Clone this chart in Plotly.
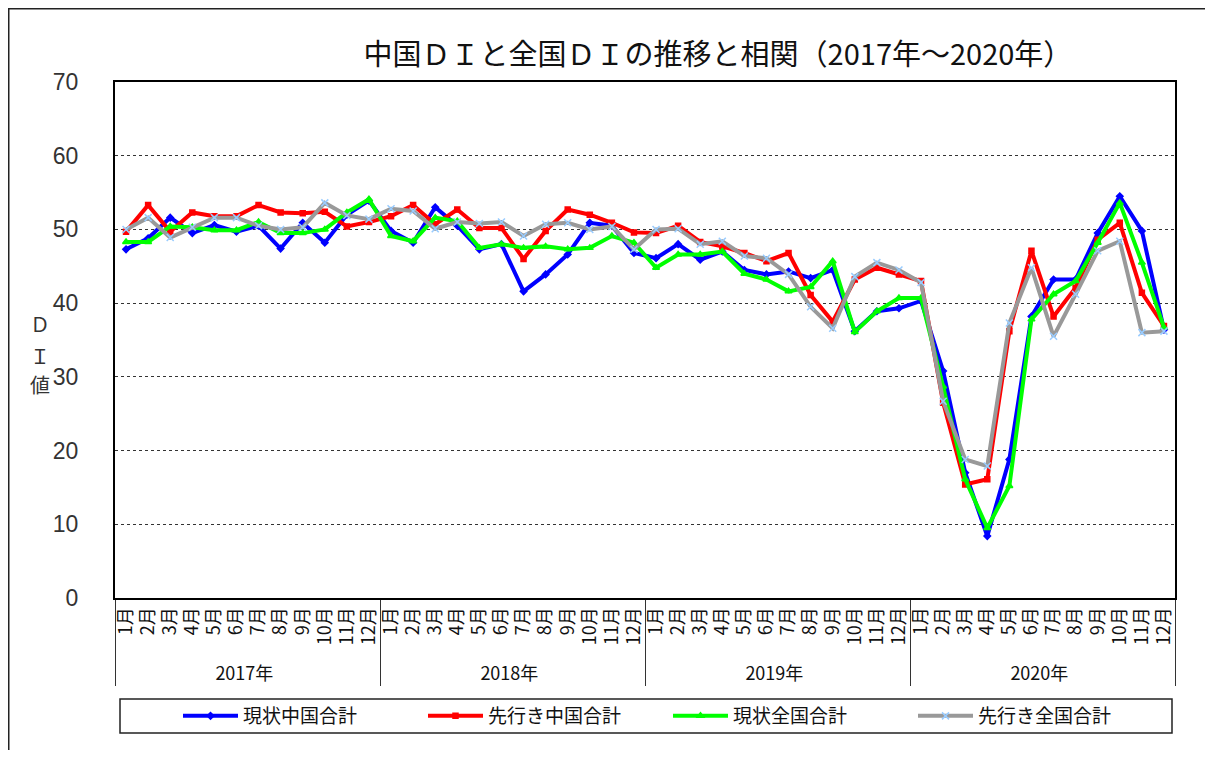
import plotly.graph_objects as go

years = ["2017年", "2018年", "2019年", "2020年"]
months = [f"{m}月" for m in range(1, 13)]
x_year = [y for y in years for _ in months]
x_month = [m for _ in years for m in months]

genjo_chugoku = [
    47.3, 48.8, 51.6, 49.5, 50.6, 49.7, 50.5, 47.4, 50.9, 48.2, 52.0, 53.9,
    49.8, 48.2, 53.0, 50.5, 47.3, 48.0, 41.6, 43.9, 46.6, 50.9, 50.5, 46.8,
    46.1, 48.0, 45.9, 47.0, 44.5, 43.9, 44.3, 43.4, 44.5, 36.2, 38.9, 39.3,
    40.3, 30.8, 17.0, 8.4, 18.8, 38.2, 43.2, 43.2, 49.5, 54.5, 49.8, 36.4,
]
sakiyuki_chugoku = [
    49.7, 53.3, 49.7, 52.3, 51.8, 51.8, 53.3, 52.3, 52.2, 52.4, 50.4, 51.0,
    51.8, 53.3, 50.7, 52.7, 50.2, 50.2, 46.0, 49.8, 52.7, 52.0, 50.9, 49.6,
    49.5, 50.5, 48.3, 47.7, 46.8, 45.7, 46.8, 41.1, 37.5, 43.2, 44.8, 43.9,
    43.0, 26.5, 15.4, 16.1, 36.2, 47.1, 38.2, 42.1, 48.6, 50.9, 41.4, 36.9,
]
genjo_zenkoku = [
    48.3, 48.3, 50.4, 50.3, 49.9, 49.9, 51.0, 49.5, 49.5, 50.0, 52.3, 54.1,
    49.1, 48.4, 51.6, 51.1, 47.5, 48.0, 47.5, 47.7, 47.3, 47.5, 49.1, 48.2,
    44.8, 46.6, 46.6, 47.0, 44.0, 43.2, 41.6, 42.2, 45.7, 36.1, 38.9, 40.7,
    40.7, 28.7, 16.1, 9.5, 15.2, 37.8, 41.2, 43.0, 48.2, 53.6, 45.5, 36.7,
]
sakiyuki_zenkoku = [
    50.0, 51.6, 48.9, 50.3, 51.6, 51.6, 50.5, 50.0, 50.3, 53.6, 51.9, 51.4,
    52.8, 52.5, 50.1, 51.0, 50.8, 51.0, 49.1, 50.7, 50.9, 50.0, 50.4, 47.3,
    50.0, 50.1, 48.0, 48.4, 46.4, 46.1, 43.9, 39.5, 36.6, 43.6, 45.5, 44.5,
    42.8, 26.7, 18.8, 17.9, 37.3, 44.8, 35.5, 41.2, 47.1, 48.4, 36.0, 36.2,
]
y_ticks = [0, 10, 20, 30, 40, 50, 60, 70]

FONT = "Noto Sans CJK JP"

series = [
    ("現状中国合計", genjo_chugoku, "#0000FF", "diamond", "#0000FF", 5),
    ("先行き中国合計", sakiyuki_chugoku, "#FF0000", "square", "#FF0000", 5),
    ("現状全国合計", genjo_zenkoku, "#00FF00", "triangle-up", "#00FF00", 6),
    ("先行き全国合計", sakiyuki_zenkoku, "#999999", "x-thin", "#99CCFF", 7),
]

fig = go.Figure()
for name, vals, color, sym, mcol, msize in series:
    fig.add_trace(go.Scatter(
        x=[x_year, x_month], y=vals, name=name, mode="lines+markers",
        line=dict(color=color, width=4),
        marker=dict(symbol=sym, size=msize, color=mcol,
                    line=dict(color=mcol, width=1.5)),
    ))

# page body adds 8px margin, so figure is 16px smaller than window
W, H = 1197, 742
L, R, T, B = 107, 30, 74, 152
PW, PH = W - L - R, H - T - B


def px(xf):
    return (xf - L) / PW


def py(yf):
    return (H - B - yf) / PH


fig.update_layout(
    width=W, height=H,
    margin=dict(l=L, r=R, t=T, b=B, autoexpand=False),
    paper_bgcolor="white", plot_bgcolor="white",
    font=dict(family=FONT, color="#222222"),
    title=dict(text="中国ＤＩと全国ＤＩの推移と相関（2017年～2020年）",
               xref="paper", x=px(710), xanchor="center",
               yref="container", y=1 - 47 / H, yanchor="middle",
               font=dict(size=29, color="#111111", family=FONT)),
    showlegend=True,
    legend=dict(orientation="h", xref="container", x=170 / W, xanchor="left",
                yref="container", y=1 - 708 / H, yanchor="middle",
                borderwidth=0, bgcolor="rgba(0,0,0,0)",
                font=dict(size=19, family=FONT, color="#111111"),
                itemwidth=55, entrywidth=175, traceorder="normal"),
    xaxis=dict(type="multicategory", range=[-0.5, 47.5], automargin=False,
               showline=True, linecolor="black", linewidth=2,
               mirror=True, tickangle=-90,
               tickfont=dict(size=18, family=FONT, color="#111111"),
               showdividers=True, dividercolor="#333333", dividerwidth=1,
               showgrid=False, ticks=""),
    yaxis=dict(range=[0, 70], tickvals=y_ticks, automargin=False,
               showline=True, linecolor="black",
               linewidth=2, mirror=True, showgrid=True, gridcolor="#333333",
               griddash="dot", gridwidth=1, zeroline=False,
               tickfont=dict(size=23, family="Liberation Sans Narrow, Liberation Sans",
                             color="#333333"),
               ticks="", ticklabelstandoff=30),
    annotations=[
        dict(text=t, xref="paper", yref="paper", x=px(32), y=py(yy),
             xanchor="center", yanchor="middle", showarrow=False,
             font=dict(size=20, family=FONT, color="#333333"))
        for t, yy in [("Ｄ", 315), ("Ｉ", 347), ("値", 377)]
    ],
    shapes=[
        dict(type="rect", xref="paper", yref="paper", x0=px(0.75), x1=px(W + 20),
             y0=py(H + 20), y1=py(0.75), line=dict(color="#222222", width=1.5),
             layer="below"),
        dict(type="rect", xref="paper", yref="paper", x0=px(112), x1=px(1164),
             y0=py(725), y1=py(691), line=dict(color="#222222", width=1.5),
             layer="below"),
    ],
)

fig.write_html("out.html")
